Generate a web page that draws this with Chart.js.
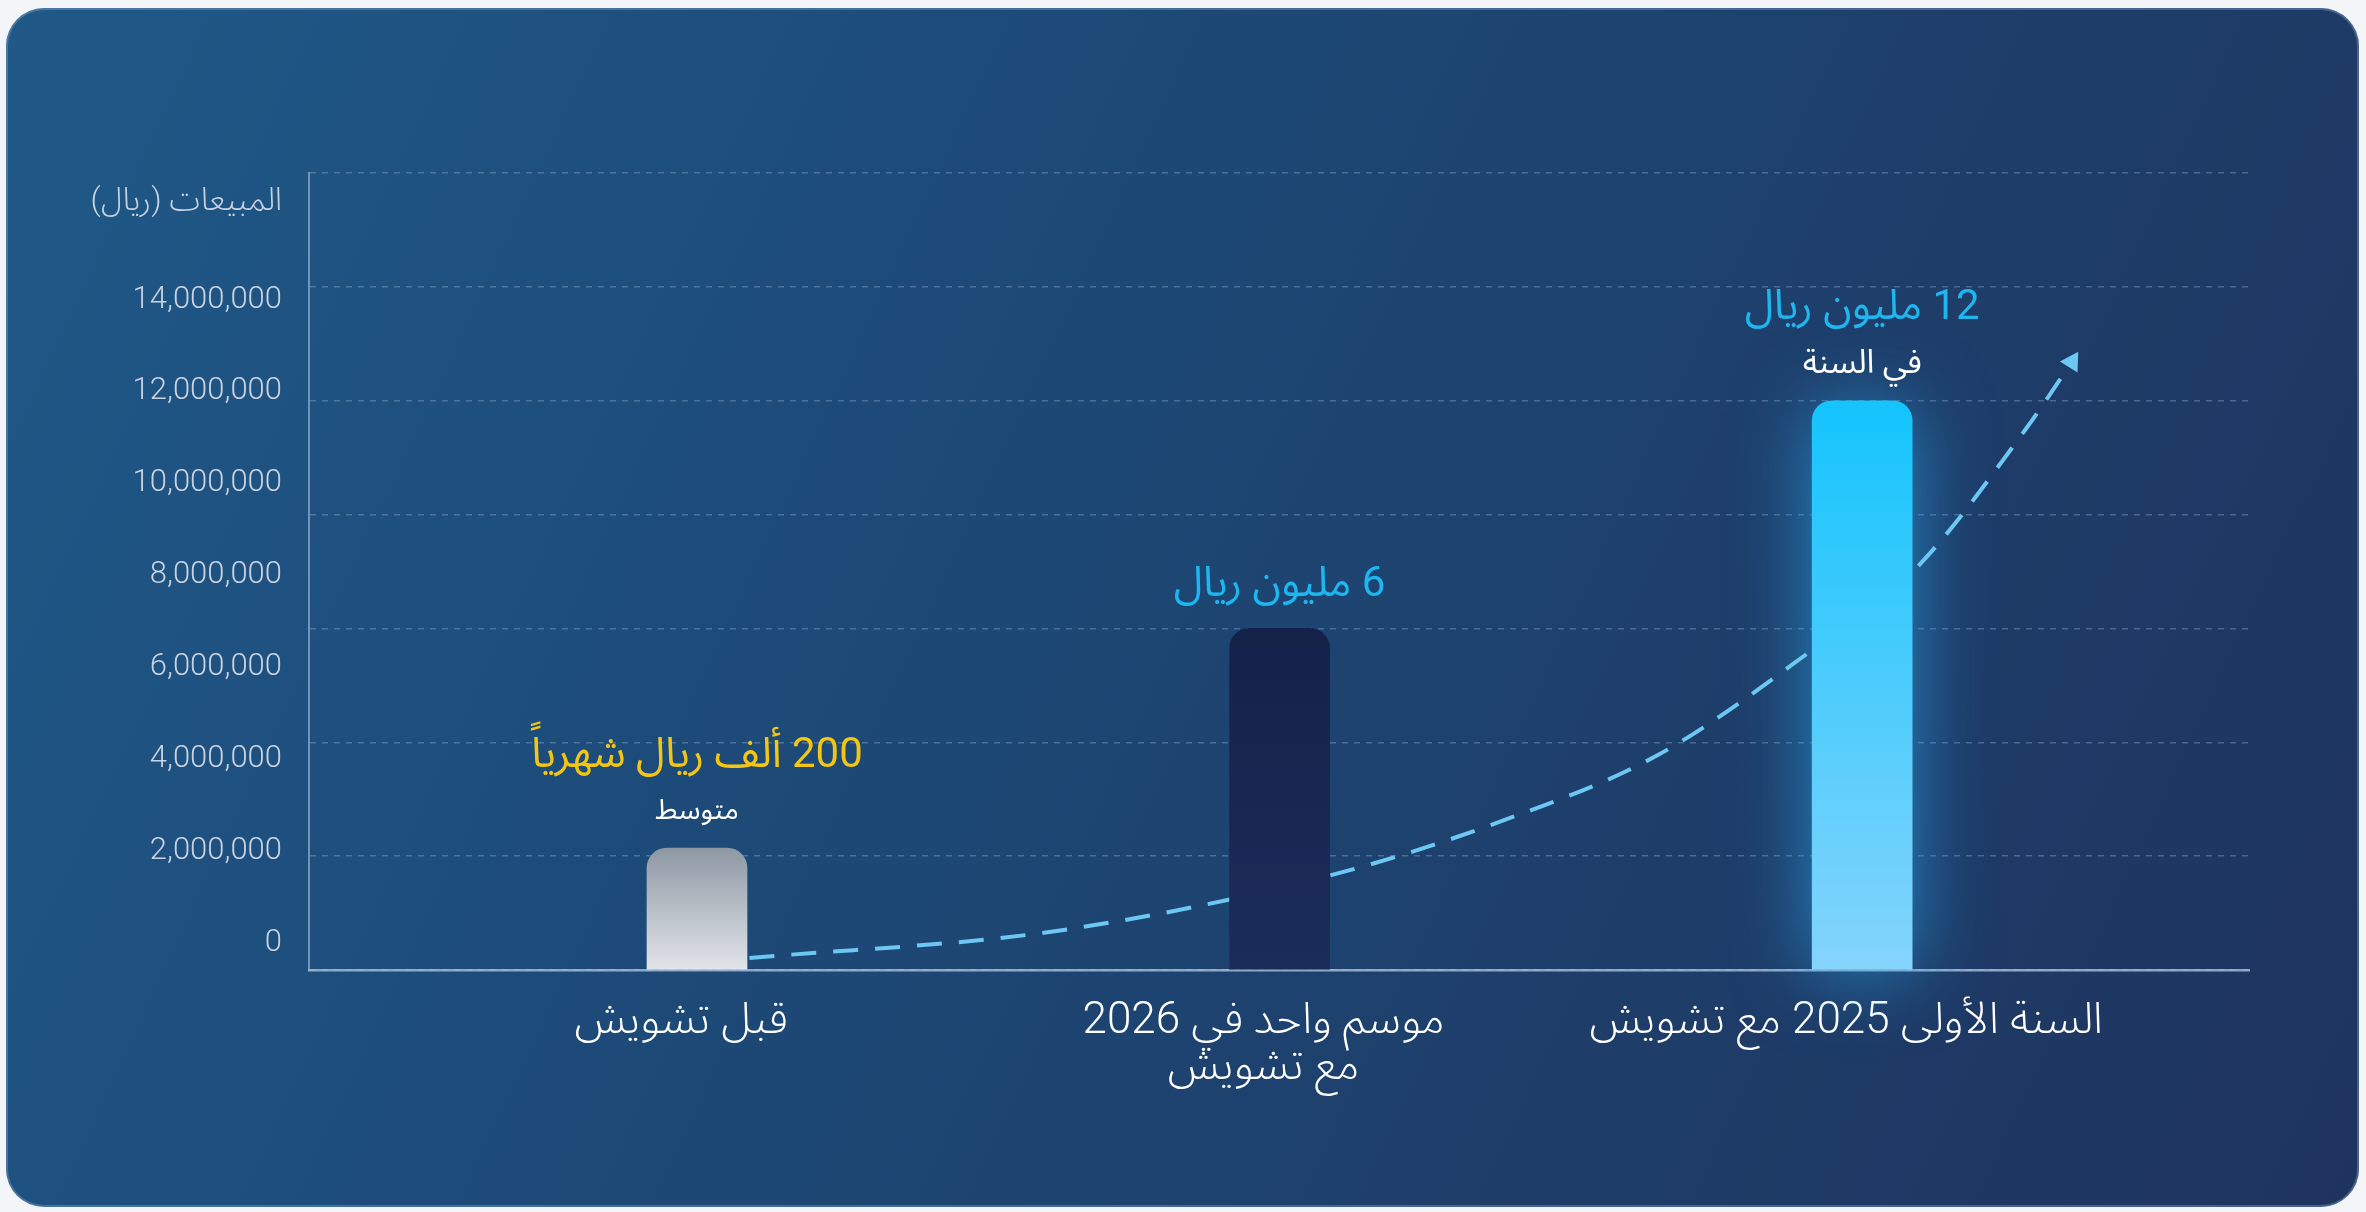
<!DOCTYPE html>
<html lang="ar">
<head>
<meta charset="utf-8">
<title>المبيعات</title>
<script src="https://cdn.jsdelivr.net/npm/chart.js@4.4.1/dist/chart.umd.min.js"></script>
<style>
    html, body {
        margin: 0;
        padding: 0;
        width: 2366px;
        height: 1212px;
        overflow: hidden;
        background: #f3f5f8;
    }
    .card {
        position: absolute;
        left: 6px;
        top: 8px;
        width: 2353px;
        height: 1199px;
        border-radius: 38px;
        background: linear-gradient(115deg, #1f5988 0%, #1d4b79 35%, #1e3e6a 70%, #1e345f 100%);
        box-shadow: inset 0 0 0 2px rgba(150, 180, 215, 0.35);
    }
    .chart-wrap {
        position: absolute;
        left: 0;
        top: 0;
        width: 2366px;
        height: 1212px;
        direction: rtl;
    }
</style>
</head>
<body>
<div class="card"></div>
<div class="chart-wrap"><canvas id="salesChart"></canvas></div>
<script>
// Chart data
const categories = ['قبل تشويش', ['موسم واحد في 2026', 'مع تشويش'], 'السنة الأولى 2025 مع تشويش'];
const categoryPositions = [0, 1, 2];
const salesValues = [2140000, 6000000, 10000000];
const valueLabels = ['200 ألف ريال شهرياً', '6 مليون ريال', '12 مليون ريال'];
const valueSubLabels = ['متوسط', '', 'في السنة'];

// Dashed growth curve
const trendX = [0.09, 0.62, 1.09, 1.39, 1.65, 1.91, 2.09, 2.28, 2.36];
const trendY = [210000, 690000, 1670000, 2650000, 3780000, 5590000, 7030000, 9490000, 10680000];

// Y tick labels; the axis title sits one step above the top label
const tickLabelValues = [0, 2000000, 4000000, 6000000, 8000000, 10000000, 12000000, 14000000];
const axisTitle = 'المبيعات (ريال)';
const titleTickValue = 16000000;

const FONT = "Roboto, 'Noto Sans Arabic', 'DejaVu Sans', sans-serif";
const barTopColors = ['#8e98a3', '#14224a', '#14c4fd'];
const barBottomColors = ['#e2e5ea', '#1c2c59', '#84d4fb'];
const valueColors = ['#f3c614', '#1db6ef', '#1db6ef'];
const subLabelSizes = [28, 0, 33];

function barFill(c) {
    const chart = c.chart;
    const i = c.dataIndex;
    if (!chart.chartArea) return barTopColors[i];
    const y = chart.scales.y;
    const top = y.getPixelForValue(salesValues[i]);
    const bottom = y.getPixelForValue(0);
    const g = chart.ctx.createLinearGradient(0, top, 0, bottom);
    g.addColorStop(0, barTopColors[i]);
    g.addColorStop(1, barBottomColors[i]);
    return g;
}

// soft glow behind the last bar
const barGlow = {
    id: 'barGlow',
    beforeDatasetsDraw(chart) {
        const el = chart.getDatasetMeta(0).data[2];
        if (!el) return;
        const ctx = chart.ctx;
        ctx.save();
        ctx.shadowColor = 'rgba(40, 180, 250, 0.7)';
        ctx.shadowBlur = 80;
        ctx.fillStyle = '#2aa8ea';
        ctx.fillRect(el.x - el.width / 2 + 4, el.y + 10, el.width - 8, el.base - el.y - 10);
        ctx.restore();
    }
};

// axis title above the tick labels
const axisTitlePlugin = {
    id: 'axisTitle',
    afterDraw(chart) {
        const scale = chart.scales.yLabels;
        const ctx = chart.ctx;
        ctx.save();
        ctx.direction = 'rtl';
        ctx.textAlign = 'right';
        ctx.textBaseline = 'middle';
        ctx.font = '300 32px ' + FONT;
        ctx.fillStyle = '#c8d2e0';
        ctx.fillText(axisTitle, scale.right - 27, scale.getPixelForValue(titleTickValue) - 6);
        ctx.restore();
    }
};

// value texts above the bars
const barValueLabels = {
    id: 'barValueLabels',
    afterDatasetsDraw(chart) {
        const ctx = chart.ctx;
        const meta = chart.getDatasetMeta(0);
        ctx.save();
        ctx.direction = 'rtl';
        ctx.textAlign = 'center';
        ctx.textBaseline = 'middle';
        meta.data.forEach((el, i) => {
            const hasSub = valueSubLabels[i] !== '';
            ctx.font = '400 42px ' + FONT;
            ctx.fillStyle = valueColors[i];
            ctx.fillText(valueLabels[i], el.x, el.y - (hasSub ? 92 : 43));
            if (hasSub) {
                ctx.font = '400 ' + subLabelSizes[i] + 'px ' + FONT;
                ctx.fillStyle = '#ffffff';
                ctx.fillText(valueSubLabels[i], el.x, el.y - 36);
            }
        });
        ctx.restore();
    }
};

const ctx = document.getElementById('salesChart').getContext('2d');

new Chart(ctx, {
    type: 'bar',
    data: {
        datasets: [{
            type: 'bar',
            data: categoryPositions.map((x, i) => ({ x: x, y: salesValues[i] })),
            backgroundColor: barFill,
            borderWidth: 0,
            borderRadius: 20,
            borderSkipped: 'start',
            barThickness: 100,
            order: 0
        }, {
            type: 'line',
            data: trendX.map((x, i) => ({ x: x, y: trendY[i] })),
            borderColor: '#6cc7f3',
            borderWidth: 4,
            borderDash: [25, 17],
            cubicInterpolationMode: 'monotone',
            fill: false,
            pointRadius: trendX.map((_, i) => i === trendX.length - 1 ? 12 : 0),
            pointStyle: 'triangle',
            pointRotation: -88,
            pointBackgroundColor: '#6cc7f3',
            pointBorderWidth: 0,
            order: 1
        }]
    },
    options: {
        responsive: true,
        maintainAspectRatio: false,
        animation: false,
        layout: {
            padding: { left: 109, top: 173, right: 117, bottom: 92 }
        },
        plugins: {
            legend: { display: false },
            tooltip: { enabled: false }
        },
        scales: {
            x: {
                type: 'linear',
                offset: false,
                min: -0.666,
                max: 2.664,
                afterBuildTicks: (axis) => { axis.ticks = categoryPositions.map(v => ({ value: v })); },
                afterFit: (axis) => { axis.height = 150; },
                grid: { display: false, drawTicks: false, offset: false },
                border: { display: true, color: 'rgba(170, 192, 220, 0.8)', width: 2.5 },
                ticks: {
                    padding: 29,
                    labelOffset: -16,
                    maxRotation: 0,
                    autoSkip: false,
                    color: '#ffffff',
                    font: { family: FONT, size: 44, weight: 300, lineHeight: 1.05 },
                    callback: (value) => categories[value]
                }
            },
            y: {
                min: 0,
                max: 14000000,
                position: 'left',
                weight: 0,
                afterFit: (axis) => { axis.width = 0; },
                ticks: { display: false, stepSize: 2000000 },
                grid: { color: 'rgba(150, 178, 210, 0.38)', lineWidth: 1.5, drawTicks: false },
                border: { display: true, color: 'rgba(170, 192, 220, 0.6)', width: 2, dash: [6, 6] }
            },
            yLabels: {
                position: 'left',
                weight: 1,
                min: -590000,
                max: 16760000,
                afterBuildTicks: (axis) => { axis.ticks = tickLabelValues.map(v => ({ value: v })); },
                afterFit: (axis) => { axis.width = 200; },
                grid: { display: false, drawTicks: false },
                border: { display: false },
                ticks: {
                    padding: 27,
                    color: '#c8d2e0',
                    font: { family: FONT, size: 31, weight: 300 },
                    callback: (value) => value.toLocaleString('en-US')
                }
            }
        }
    },
    plugins: [barGlow, barValueLabels, axisTitlePlugin]
});
</script>
</body>
</html>
